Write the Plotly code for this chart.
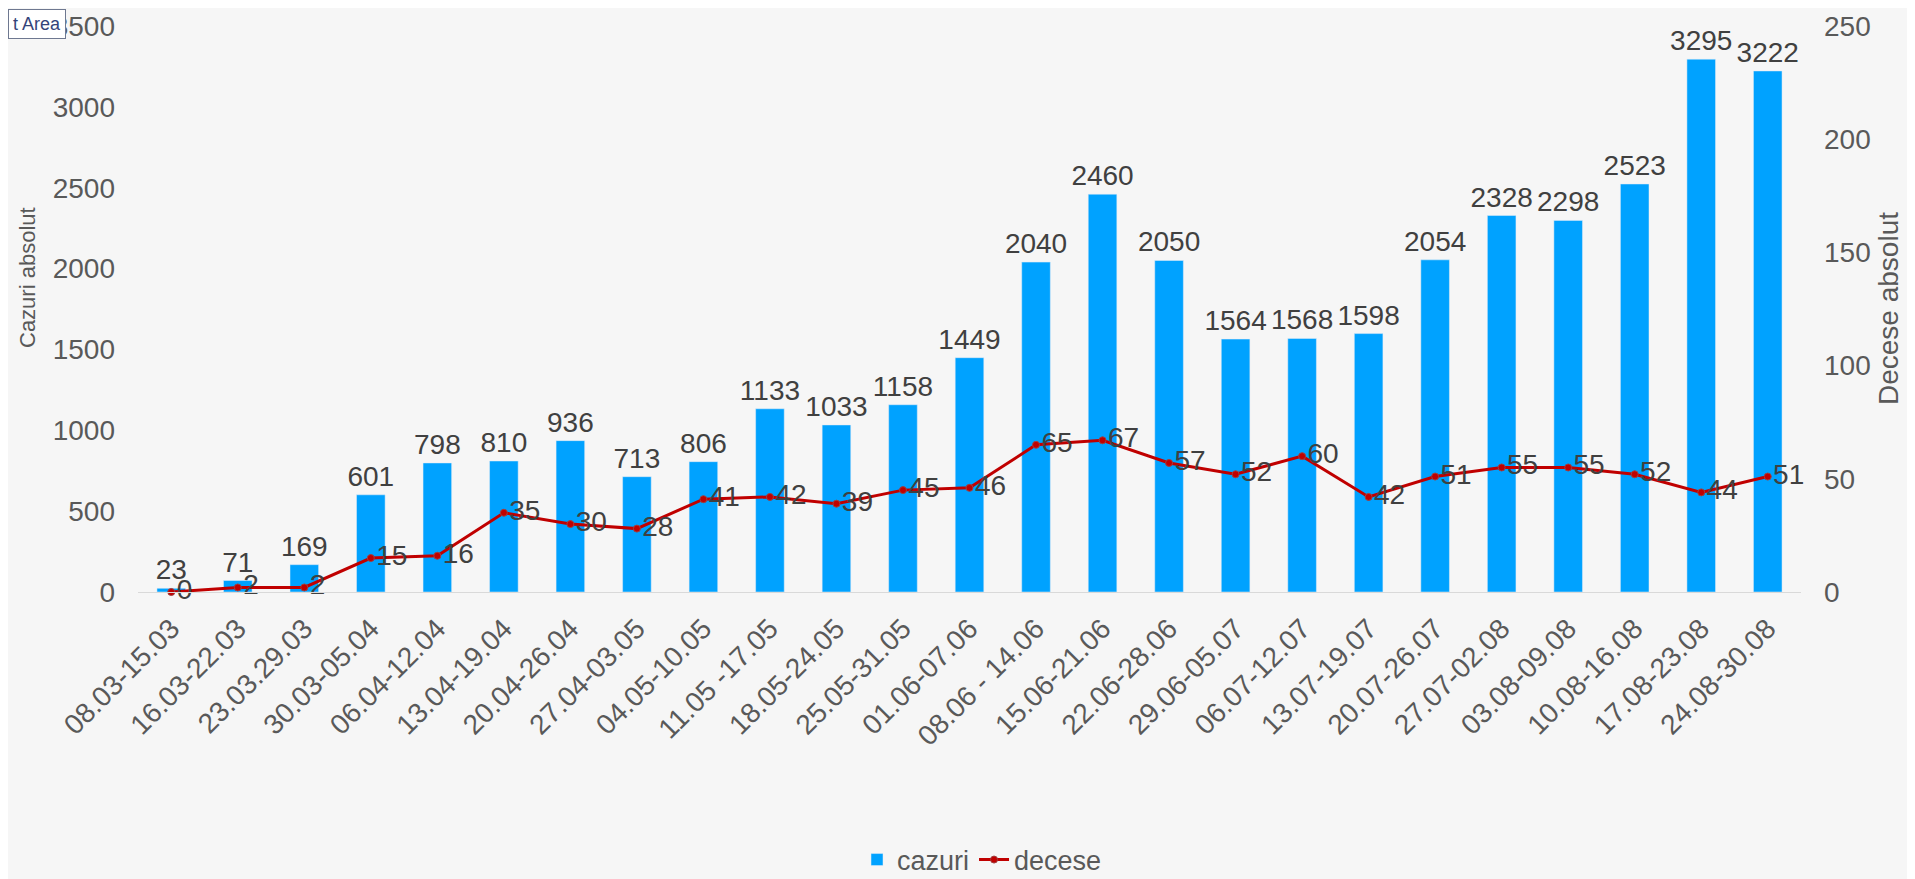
import plotly.graph_objects as go

categories = ["08.03-15.03", "16.03-22.03", "23.03.29.03", "30.03-05.04", "06.04-12.04",
              "13.04-19.04", "20.04-26.04", "27.04-03.05", "04.05-10.05", "11.05 -17.05",
              "18.05-24.05", "25.05-31.05", "01.06-07.06", "08.06 - 14.06", "15.06-21.06",
              "22.06-28.06", "29.06-05.07", "06.07-12.07", "13.07-19.07", "20.07-26.07",
              "27.07-02.08", "03.08-09.08", "10.08-16.08", "17.08-23.08", "24.08-30.08"]
cazuri = [23, 71, 169, 601, 798, 810, 936, 713, 806, 1133, 1033, 1158, 1449, 2040, 2460,
          2050, 1564, 1568, 1598, 2054, 2328, 2298, 2523, 3295, 3222]
decese = [0, 2, 2, 15, 16, 35, 30, 28, 41, 42, 39, 45, 46, 65, 67, 57, 52, 60, 42, 51,
          55, 55, 52, 44, 51]
left_ticks = [0, 500, 1000, 1500, 2000, 2500, 3000, 3500]
right_ticks = [0, 50, 100, 150, 200, 250]

FONT = "Liberation Sans, Arial, sans-serif"
TXT = "#595959"
LBL = "#404040"
BLUE = "#00A2FF"
RED = "#C00000"

W, H = 1899, 871
ML, MR, MT, MB = 130, 106, 18, 287
PW, PH = W - ML - MR, H - MT - MB

fig = go.Figure()
fig.add_trace(go.Bar(
    x=categories, y=cazuri, name="cazuri", marker_color=BLUE,
    text=[str(v) for v in cazuri], textposition="outside", textangle=0,
    constraintext="none",
    textfont=dict(size=28, color=LBL, family=FONT), cliponaxis=False,
))
fig.add_trace(go.Scatter(
    x=categories, y=decese, name="decese", yaxis="y2", mode="lines+markers+text",
    line=dict(color=RED, width=3), marker=dict(size=7, color=RED,
                                                line=dict(color="#A04040", width=1)),
    text=[str(v) for v in decese], textposition="middle right",
    textfont=dict(size=28, color=LBL, family=FONT), cliponaxis=False,
))

fig.update_layout(
    width=W, height=H,
    margin=dict(l=ML, r=MR, t=MT, b=MB, autoexpand=False),
    paper_bgcolor="#F6F6F6", plot_bgcolor="#F6F6F6",
    font=dict(family=FONT, color=TXT, size=26),
    bargap=0.57,
    showlegend=True,
    legend=dict(orientation="h", x=(974 - ML) / PW, xanchor="center",
                y=-(852 - (MT + PH)) / PH, yanchor="middle",
                font=dict(size=27, color=TXT), itemwidth=30, traceorder="normal"),
    xaxis=dict(tickangle=-45, tickfont=dict(size=28, color=TXT), showgrid=False,
               range=[-0.5, len(categories) - 0.5], ticklabelstandoff=8,
               showline=True, linecolor="#D9D9D9", linewidth=1, ticks="",
               automargin=False),
    yaxis=dict(range=[0, 3500], tickvals=left_ticks, showgrid=False, zeroline=False,
               tickfont=dict(size=28, color=TXT), ticks="", automargin=False,
               ticklabelstandoff=22),
    yaxis2=dict(range=[0, 250], tickvals=right_ticks, overlaying="y", side="right",
                showgrid=False, zeroline=False, tickfont=dict(size=28, color=TXT), ticks="",
                automargin=False, ticklabelstandoff=22),
)

# axis titles (placed where the reference shows them)
fig.add_annotation(
    text="Cazuri absolut", xref="paper", yref="paper", x=(19 - ML) / PW,
    y=(MT + PH - 270) / PH, textangle=-90, showarrow=False, xanchor="center",
    yanchor="middle", font=dict(size=22, color=TXT, family=FONT),
)
fig.add_annotation(
    text="Decese absolut", xref="paper", yref="paper", x=(1880 - ML) / PW,
    y=0.5, textangle=-90, showarrow=False, xanchor="center",
    yanchor="middle", font=dict(size=28, color=TXT, family=FONT),
)

fig.add_annotation(
    text="t Area", xref="paper", yref="paper", x=-ML / PW, y=(MT + PH - 1) / PH,
    xanchor="left", yanchor="top", showarrow=False,
    font=dict(size=18, color="#34447A", family=FONT),
    bgcolor="#FFFFFF", bordercolor="#6E7890", borderwidth=1, borderpad=4,
)

fig.write_html("out.html")
